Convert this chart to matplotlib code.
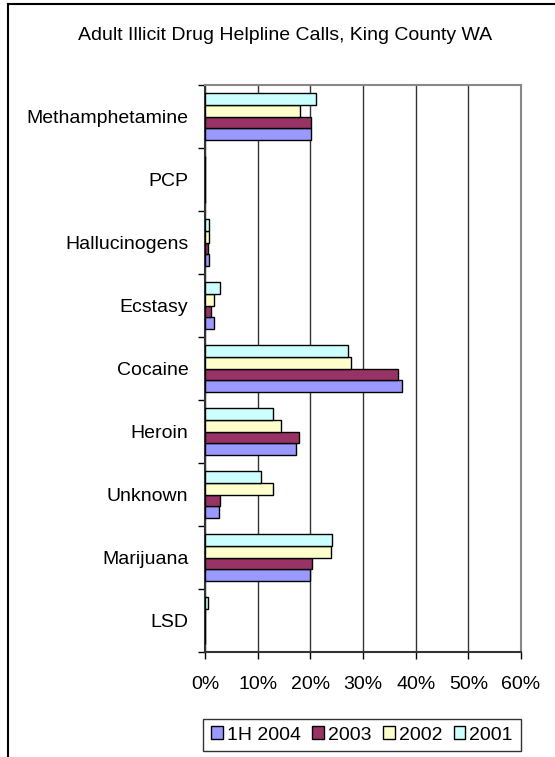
import numpy as np
import matplotlib.pyplot as plt
from matplotlib.lines import Line2D

plt.rcParams['font.family'] = ['Liberation Sans', 'DejaVu Sans']

categories = ["LSD", "Marijuana", "Unknown", "Heroin", "Cocaine",
              "Ecstasy", "Hallucinogens", "PCP", "Methamphetamine"]
series = ["1H 2004", "2003", "2002", "2001"]
colors = ["#9999FF", "#993366", "#FFFFCC", "#CCFFFF"]

# percent of calls, bottom-to-top category order
v2004 = [0.0, 19.9, 2.6, 17.3, 37.4, 1.7, 0.8, 0.0, 20.1]
v2003 = [0.0, 20.4, 2.9, 17.9, 36.6, 1.1, 0.5, 0.0, 20.1]
v2002 = [0.0, 23.9, 13.0, 14.4, 27.7, 1.7, 0.8, 0.0, 18.1]
v2001 = [0.6, 24.2, 10.6, 13.0, 27.1, 2.9, 0.8, 0.0, 21.0]
values = [v2004, v2003, v2002, v2001]

fs = 14

fig = plt.figure(figsize=(5.55, 7.57), dpi=100)
ax = fig.add_axes([205/555, 1-652/757, 316/555, 567/757])

y = np.arange(len(categories))
h = 0.186
for i, (vals, c, lab) in enumerate(zip(values, colors, series)):
    ax.barh(y + (i - 1.5) * h, vals, height=h, color=c, edgecolor="black",
            linewidth=1.0, label=lab, zorder=3)

ax.set_xlim(0, 60)
ax.set_ylim(-0.5, len(categories) - 0.5)
ax.set_xticks(np.arange(0, 61, 10))
ax.set_xticklabels([f"{t}%" for t in range(0, 61, 10)], fontsize=fs)
ax.set_yticks(y)
ax.set_yticklabels(categories, fontsize=fs)
ax.set_yticks(np.arange(-0.5, len(categories), 1), minor=True)
ax.tick_params(axis="y", which="major", length=0, pad=12)
ax.tick_params(axis="y", which="minor", length=5, width=1, direction="out")
ax.tick_params(axis="x", length=5, width=1, direction="out", pad=12)
ax.xaxis.grid(True, color="#333333", linewidth=1.0, zorder=0)
ax.set_axisbelow(True)
for s in ["top", "right"]:
    ax.spines[s].set_color("#888888")
    ax.spines[s].set_linewidth(1.5)
for s in ["left", "bottom"]:
    ax.spines[s].set_color("#333333")
    ax.spines[s].set_linewidth(1.5)

fig.text(285/555, 1-35/757, "Adult Illicit Drug Helpline Calls, King County WA",
         ha="center", va="center", fontsize=fs)

leg = fig.legend(loc="center", bbox_to_anchor=(362/555, 1-735/757), ncol=4,
                 fontsize=fs, frameon=True, fancybox=False, handlelength=0.6,
                 handleheight=0.6, handletextpad=0.2, columnspacing=0.6,
                 borderpad=0.4)
leg.get_frame().set_edgecolor("black")
leg.get_frame().set_linewidth(1.0)

# outer chart border (left and top visible)
fig.add_artist(Line2D([8/555, 8/555], [0, 1-4/757], color="black", linewidth=1.5,
                      transform=fig.transFigure))
fig.add_artist(Line2D([8/555, 1], [1-4/757, 1-4/757], color="black", linewidth=1.5,
                      transform=fig.transFigure))

fig.savefig("out.png", dpi=100)
